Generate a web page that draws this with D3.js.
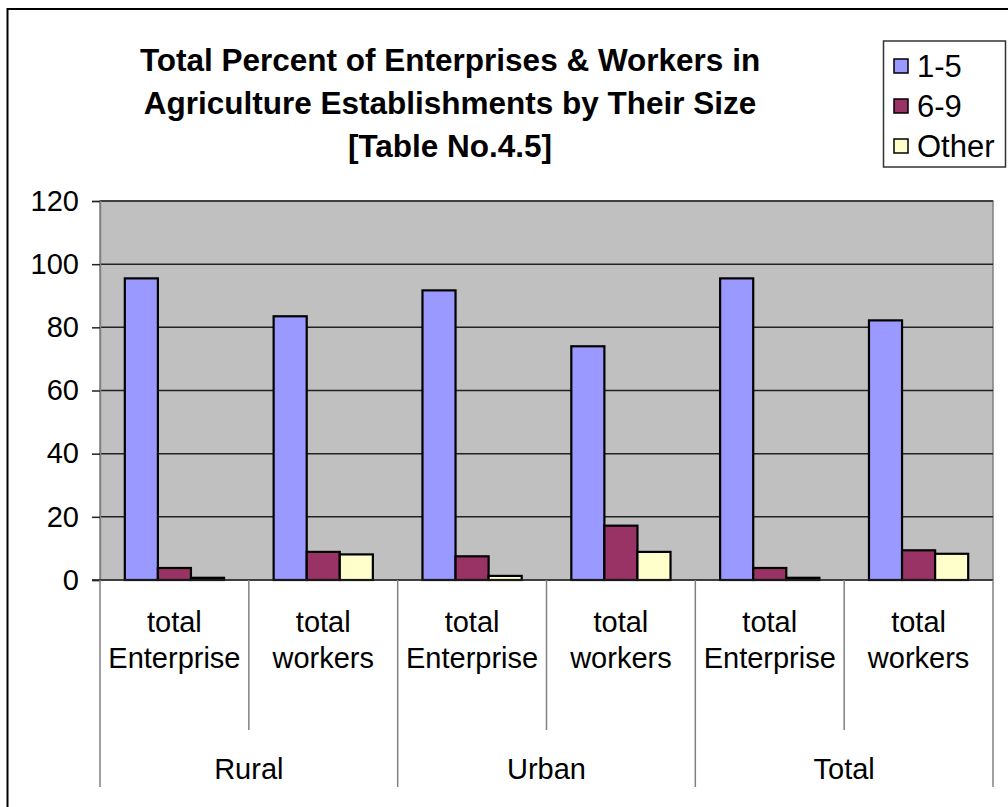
<!DOCTYPE html>
<html>
<head>
<meta charset="utf-8">
<script src="https://cdn.jsdelivr.net/npm/d3@7"></script>
<style>
  html, body { margin: 0; padding: 0; background: #fff; }
  svg { display: block; font-family: "Liberation Sans", Arial, sans-serif; }
</style>
</head>
<body>
<svg id="chart" width="1008" height="807"></svg>
<script>
const categories = ['total Enterprise', 'total workers', 'total Enterprise', 'total workers', 'total Enterprise', 'total workers'];
const groups = ['Rural', 'Urban', 'Total'];
const seriesNames = ['1-5', '6-9', 'Other'];
const values1to5 = [95.5, 83.5, 91.7, 74.0, 95.5, 82.2];
const values6to9 = [3.8, 8.9, 7.5, 17.2, 3.8, 9.4];
const valuesOther = [0.7, 8.1, 1.3, 8.9, 0.7, 8.3];
const yTicks = [0, 20, 40, 60, 80, 100, 120];
const titleLines = ['Total Percent of Enterprises & Workers in', 'Agriculture Establishments by Their Size', '[Table No.4.5]'];

const colors = { '1-5': '#9999FF', '6-9': '#993366', 'Other': '#FFFFCC' };
const seriesValues = { '1-5': values1to5, '6-9': values6to9, 'Other': valuesOther };

const svg = d3.select('#chart');
const plot = { left: 100, right: 993, top: 201, bottom: 580 };

// outer chart border (right/bottom edges run off the picture)
svg.append('rect')
  .attr('x', 7.5).attr('y', 9)
  .attr('width', 1010).attr('height', 805)
  .attr('fill', '#fff').attr('stroke', '#000').attr('stroke-width', 2);

const x0 = d3.scaleBand()
  .domain(d3.range(categories.length))
  .range([plot.left, plot.right])
  .paddingInner(0).paddingOuter(0);

const bw = x0.bandwidth();
const barW = bw / 4.5; // gap width 150%
const x1 = d3.scaleBand()
  .domain(seriesNames)
  .range([barW * 0.75, bw - barW * 0.75]);

const y = d3.scaleLinear().domain([0, 120]).range([plot.bottom, plot.top]);

// plot background
svg.append('rect')
  .attr('x', plot.left).attr('y', plot.top)
  .attr('width', plot.right - plot.left).attr('height', plot.bottom - plot.top)
  .attr('fill', '#C0C0C0').attr('stroke', '#808080').attr('stroke-width', 1.5);

// gridlines
svg.append('g')
  .selectAll('line')
  .data(yTicks.filter(t => t > 0))
  .join('line')
  .attr('x1', plot.left).attr('x2', plot.right)
  .attr('y1', d => y(d)).attr('y2', d => y(d))
  .attr('stroke', '#222').attr('stroke-width', 1.5);

// y axis
const yAxis = svg.append('g')
  .attr('transform', `translate(${plot.left},0)`)
  .call(d3.axisLeft(y).tickValues(yTicks).tickSize(8).tickPadding(13));
yAxis.select('.domain').attr('stroke', '#808080').attr('stroke-width', 1.5);
yAxis.selectAll('.tick line').attr('stroke', '#222').attr('stroke-width', 1.5);
yAxis.selectAll('.tick text')
  .attr('font-size', 29).attr('fill', '#000')
  .attr('font-family', '"Liberation Sans", Arial, sans-serif');

// bars
const barData = [];
categories.forEach((c, i) => {
  seriesNames.forEach(s => barData.push({ i, s, v: seriesValues[s][i] }));
});

svg.append('g')
  .selectAll('rect')
  .data(barData)
  .join('rect')
  .attr('x', d => x0(d.i) + x1(d.s))
  .attr('y', d => y(d.v))
  .attr('width', x1.bandwidth())
  .attr('height', d => y(0) - y(d.v))
  .attr('fill', d => colors[d.s])
  .attr('stroke', '#000').attr('stroke-width', 2.2);

// category axis line
svg.append('line')
  .attr('x1', plot.left - 8).attr('x2', plot.right)
  .attr('y1', plot.bottom).attr('y2', plot.bottom)
  .attr('stroke', '#222').attr('stroke-width', 1.5);

// category separators
svg.append('g')
  .selectAll('line')
  .data(d3.range(categories.length + 1))
  .join('line')
  .attr('x1', d => plot.left + d * bw).attr('x2', d => plot.left + d * bw)
  .attr('y1', plot.bottom)
  .attr('y2', d => d % 2 === 0 ? 787 : 730)
  .attr('stroke', '#808080').attr('stroke-width', 1.5);

// category labels
const catText = svg.append('g')
  .selectAll('text')
  .data(categories)
  .join('text')
  .attr('text-anchor', 'middle')
  .attr('font-size', 29)
  .attr('fill', '#000');
catText.each(function(d, i) {
  const words = d.split(' ');
  d3.select(this).selectAll('tspan')
    .data(words)
    .join('tspan')
    .attr('x', x0(i) + bw / 2)
    .attr('y', (w, k) => 632 + k * 36)
    .text(w => w);
});

// group labels
svg.append('g')
  .selectAll('text')
  .data(groups)
  .join('text')
  .attr('x', (d, g) => plot.left + (g * 2 + 1) * bw)
  .attr('y', 779)
  .attr('text-anchor', 'middle')
  .attr('font-size', 29)
  .attr('fill', '#000')
  .text(d => d);

// title
svg.append('g')
  .selectAll('text')
  .data(titleLines)
  .join('text')
  .attr('x', 450)
  .attr('y', (d, i) => 71 + i * 43)
  .attr('text-anchor', 'middle')
  .attr('font-size', 31.5)
  .attr('font-weight', 'bold')
  .attr('fill', '#000')
  .text(d => d);

// legend
const legend = svg.append('g');
legend.append('rect')
  .attr('x', 883.5).attr('y', 41)
  .attr('width', 122).attr('height', 126)
  .attr('fill', '#fff').attr('stroke', '#333').attr('stroke-width', 1.5);

const item = legend.selectAll('g.item')
  .data(seriesNames)
  .join('g')
  .attr('class', 'item')
  .attr('transform', (d, i) => `translate(894,${66 + i * 40})`);

item.append('rect')
  .attr('x', 0).attr('y', -7)
  .attr('width', 14).attr('height', 14)
  .attr('fill', d => colors[d])
  .attr('stroke', '#000').attr('stroke-width', 1.5);

item.append('text')
  .attr('x', 23).attr('y', 11)
  .attr('font-size', 31)
  .attr('fill', '#000')
  .text(d => d);
</script>
</body>
</html>
